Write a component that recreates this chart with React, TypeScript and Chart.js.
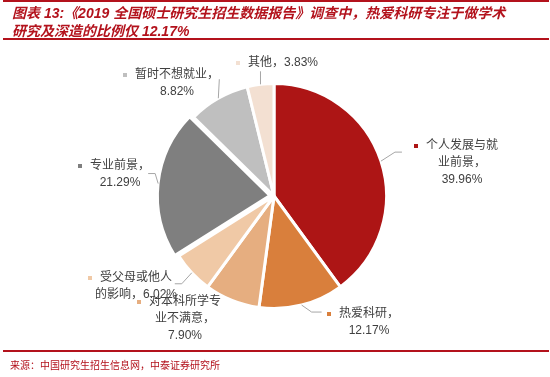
import React, { useEffect, useRef } from "react";
import { Chart, registerables } from "chart.js";

Chart.register(...registerables);

const categories = [
  "个人发展与就业前景",
  "热爱科研",
  "对本科所学专业不满意",
  "受父母或他人的影响",
  "专业前景",
  "暂时不想就业",
  "其他",
];
const values = [39.96, 12.17, 7.9, 6.02, 21.29, 8.82, 3.83];
const labelTemplates = [
  "个人发展与就\n业前景，\n{v}",
  "热爱科研，\n{v}",
  "对本科所学专\n业不满意，\n{v}",
  "受父母或他人\n的影响，{v}",
  "专业前景，\n{v}",
  "暂时不想就业，\n{v}",
  "其他，{v}",
];
const colors = ["#AD1515", "#D97F3C", "#E6AE80", "#F0C9A6", "#7F7F7F", "#BFBFBF", "#F3E0D2"];
const offsets = [0, 0, 0, 0, 16, 0, 0];

// label layout: text block centre x, first line y; leader path relative to slice edge
const labelLayout = [
  { cx: 462, y: 146, leader: [[14, -9], [21, -9]] },
  { cx: 369, y: 314, leader: [[10, 7], [20, 7]] },
  { cx: 185, y: 302, leader: [] },
  { cx: 136, y: 278, leader: [[-10, 11], [-17, 11]] },
  { cx: 120, y: 166, leader: [[-3, -10], [-10, -10]] },
  { cx: 177, y: 75, leader: [[1, -19]] },
  { cx: 283, y: 63, leader: [[0, -13]] },
];

const RED = "#B3121C";

const labelPlugin = {
  id: "sliceLabels",
  afterDatasetsDraw(chart: any) {
    const ctx = chart.ctx as CanvasRenderingContext2D;
    const meta = chart.getDatasetMeta(0);
    ctx.save();
    meta.data.forEach((arc: any, i: number) => {
      const p = arc.getProps(["x", "y", "startAngle", "endAngle", "outerRadius"], true);
      const mid = (p.startAngle + p.endAngle) / 2;
      const off = (arc.options.offset || 0) / 4;
      const sx = p.x + Math.cos(mid) * (p.outerRadius + off);
      const sy = p.y + Math.sin(mid) * (p.outerRadius + off);
      const lay = labelLayout[i];
      if (lay.leader.length) {
        ctx.beginPath();
        ctx.strokeStyle = "#A6A6A6";
        ctx.lineWidth = 1;
        ctx.moveTo(sx, sy);
        lay.leader.forEach(([dx, dy]) => ctx.lineTo(sx + dx, sy + dy));
        ctx.stroke();
      }
      const text = labelTemplates[i].replace("{v}", values[i].toFixed(2) + "%");
      const lines = text.split("\n");
      ctx.font = "12px 'Liberation Sans', 'Noto Sans CJK SC', sans-serif";
      ctx.textAlign = "center";
      ctx.textBaseline = "middle";
      ctx.fillStyle = "#404040";
      lines.forEach((ln, k) => ctx.fillText(ln, lay.cx, lay.y + k * 17));
      const w0 = ctx.measureText(lines[0]).width;
      ctx.fillStyle = colors[i];
      ctx.fillRect(lay.cx - w0 / 2 - 12, lay.y - 2, 4, 4);
    });
    ctx.restore();
  },
};

export default function App() {
  const ref = useRef<HTMLCanvasElement>(null);
  useEffect(() => {
    if (!ref.current) return;
    const chart = new Chart(ref.current, {
      type: "pie",
      data: {
        labels: categories,
        datasets: [
          {
            data: values,
            backgroundColor: colors,
            borderColor: "#FFFFFF",
            borderWidth: 3,
            offset: offsets,
            radius: 112.5,
          } as any,
        ],
      },
      options: {
        responsive: false,
        animation: false,
        radius: 112.5,
        layout: { padding: { top: 40, bottom: 25, left: 0, right: 2 } },
        plugins: { legend: { display: false }, tooltip: { enabled: false } },
      } as any,
      plugins: [labelPlugin],
    });
    return () => chart.destroy();
  }, []);

  const cjk = "'Liberation Sans', 'Noto Sans CJK SC', sans-serif";
  return (
    <div style={{ position: "fixed", left: 0, top: 0, width: 550, height: 377, background: "#fff", overflow: "hidden" }}>
      <canvas ref={ref} width={550} height={377} style={{ position: "absolute", left: 0, top: 0, width: 550, height: 377 }} />
      <div style={{ position: "absolute", left: 3, top: 0, width: 546, height: 2, background: RED }} />
      <div
        style={{
          position: "absolute",
          left: 12,
          top: 4,
          fontFamily: cjk,
          fontWeight: "bold",
          fontStyle: "italic",
          fontSize: 14,
          lineHeight: "18px",
          color: RED,
          whiteSpace: "nowrap",
        }}
      >
        <div>图表 13:《2019 全国硕士研究生招生数据报告》调查中，热爱科研专注于做学术</div>
        <div>研究及深造的比例仅 12.17%</div>
      </div>
      <div style={{ position: "absolute", left: 3, top: 38, width: 546, height: 2, background: RED }} />
      <div style={{ position: "absolute", left: 3, top: 350, width: 546, height: 2, background: RED }} />
      <div
        style={{
          position: "absolute",
          left: 10,
          top: 359,
          fontFamily: "'Noto Sans CJK SC', sans-serif",
          fontSize: 10,
          lineHeight: "12px",
          color: RED,
          whiteSpace: "nowrap",
        }}
      >
        来源：中国研究生招生信息网，中泰证券研究所
      </div>
    </div>
  );
}
